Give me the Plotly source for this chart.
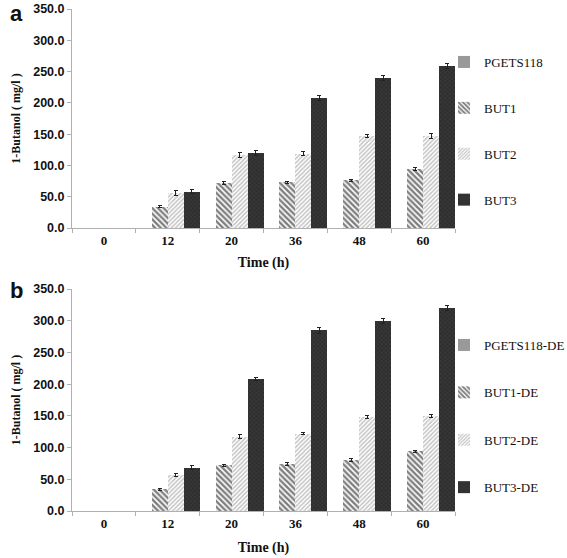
import plotly.graph_objects as go

times = ["0", "12", "20", "36", "48", "60"]

# Panel a
a_series = ["PGETS118", "BUT1", "BUT2", "BUT3"]
a_pgets = [0, 0, 0, 0, 0, 0]
a_but1 = [0, 34, 72, 73, 76, 94]
a_but2 = [0, 56, 117, 119, 147, 147]
a_but3 = [0, 58, 120, 207, 240, 259]
a_err1 = [0, 2, 2, 2, 2, 2]
a_err2 = [0, 4, 4, 3, 3, 4]
a_err3 = [0, 3, 4, 4, 4, 4]

# Panel b
b_series = ["PGETS118-DE", "BUT1-DE", "BUT2-DE", "BUT3-DE"]
b_pgets = [0, 0, 0, 0, 0, 0]
b_but1 = [0, 34, 72, 74, 80, 94]
b_but2 = [0, 57, 117, 122, 148, 150]
b_but3 = [0, 68, 208, 285, 300, 320]
b_err1 = [0, 2, 2, 2, 2, 2]
b_err2 = [0, 2, 3, 2, 2, 2]
b_err3 = [0, 3, 3, 5, 4, 4]

yticks = [0, 50, 100, 150, 200, 250, 300, 350]

SERIF = "Liberation Serif, Times New Roman, serif"
SANS = "Liberation Sans, Arial, sans-serif"

styles = [
    dict(color="#999999", pattern=None),
    dict(color="white", pattern=dict(shape="\\", fgcolor="#000000", bgcolor="white", size=4, solidity=0.6)),
    dict(color="white", pattern=dict(shape="/", fgcolor="#8a8a8a", bgcolor="white", size=3, solidity=0.5)),
    dict(color="#333333", pattern=dict(shape="x", fgcolor="#555555", bgcolor="#2e2e2e", size=3, solidity=0.3)),
]

fig = go.Figure()

def add_panel(names, vals, errs, xa, ya, legend):
    for i, (nm, v, e) in enumerate(zip(names, vals, errs)):
        st = styles[i]
        marker = dict(color=st["color"], line=dict(width=0))
        if st["pattern"] is not None:
            marker["pattern"] = st["pattern"]
        fig.add_trace(go.Bar(
            x=times, y=v, name=nm, marker=marker,
            error_y=dict(type="data", array=e, visible=any(e), color="#222222", thickness=1, width=2),
            xaxis=xa, yaxis=ya, legend=legend, legendgroup=legend + nm,
        ))

add_panel(a_series, [a_pgets, a_but1, a_but2, a_but3], [[0]*6, a_err1, a_err2, a_err3], "x", "y", "legend")
add_panel(b_series, [b_pgets, b_but1, b_but2, b_but3], [[0]*6, b_err1, b_err2, b_err3], "x2", "y2", "legend2")

W, H = 567, 558
def px(v):
    return v / W
def py(v):
    return 1 - v / H

xdom = [px(72), px(455)]
yaxis_common = dict(
    range=[0, 350], tickvals=yticks, ticktext=[f"{t:.1f}" for t in yticks],
    showline=True, linecolor="#b0b0b0", linewidth=1, ticks="outside", ticklen=4,
    tickcolor="#b0b0b0", showgrid=False, zeroline=False, automargin=False,
    tickfont=dict(family=SANS, size=12.5, color="#111111", weight="bold"),
    title=dict(text="1-Butanol ( mg/l )", font=dict(family=SERIF, size=12, color="#111111", weight="bold"), standoff=10),
)

def xaxis_common(standoff):
    return dict(
        type="category", showline=True, linecolor="#b0b0b0", linewidth=1, ticks="outside",
        ticklen=4, tickcolor="#b0b0b0", tickson="boundaries", showgrid=False, automargin=False,
        tickfont=dict(family=SERIF, size=13, color="#111111", weight="bold"),
        title=dict(text="Time (h)", font=dict(family=SERIF, size=14, color="#111111", weight="bold"), standoff=standoff),
    )

legend_common = dict(
    font=dict(family=SERIF, size=13, color="#111111"),
    bgcolor="rgba(0,0,0,0)", itemwidth=30,
    xanchor="left", yanchor="top",
)

fig.update_layout(
    width=W, height=H, margin=dict(l=0, r=0, t=0, b=0, autoexpand=False),
    paper_bgcolor="white", plot_bgcolor="white",
    barmode="group", bargap=0.0, bargroupgap=0.0,
    xaxis=dict(domain=xdom, anchor="y", **xaxis_common(10)),
    yaxis=dict(domain=[py(228), py(9)], anchor="x", **yaxis_common),
    xaxis2=dict(domain=xdom, anchor="y2", **xaxis_common(12)),
    yaxis2=dict(domain=[py(511), py(289)], anchor="x2", **yaxis_common),
    legend=dict(x=px(444), y=py(47), tracegroupgap=26, **legend_common),
    legend2=dict(x=px(444), y=py(330), tracegroupgap=27.5, **legend_common),
    showlegend=True,
    annotations=[
        dict(text="a", x=px(8), y=py(-1), xref="paper", yref="paper", xanchor="left", yanchor="top",
             showarrow=False, font=dict(family=SANS, size=22, color="#111111", weight="bold")),
        dict(text="b", x=px(8), y=py(276), xref="paper", yref="paper", xanchor="left", yanchor="top",
             showarrow=False, font=dict(family=SANS, size=22, color="#111111", weight="bold")),
    ],
)

fig.write_html("out.html", config={"displayModeBar": False},
               post_script="document.body.style.margin='0px';")
